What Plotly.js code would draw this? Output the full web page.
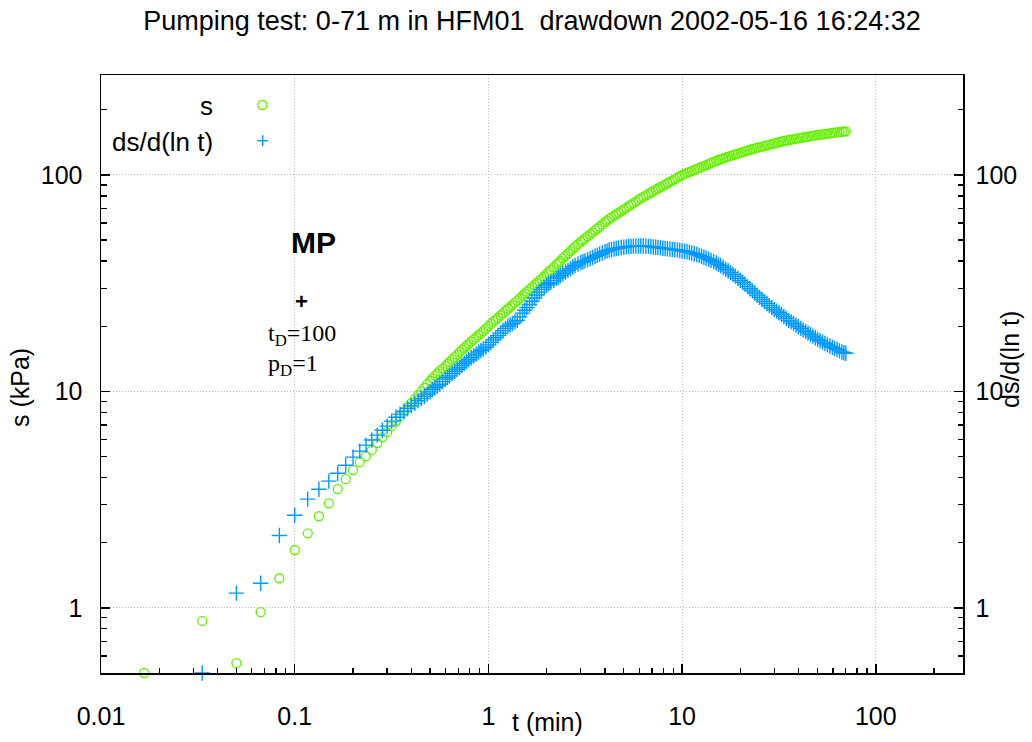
<!DOCTYPE html>
<html>
<head>
<meta charset="utf-8">
<script src="https://cdn.plot.ly/plotly-3.0.1.min.js"></script>
<style>html,body{margin:0;padding:0;background:#fff;}#chart{width:1032px;height:742px;}</style>
</head>
<body>
<div id="chart"></div>
<script>
// ---- data ----
var timeMin = [0.0167,0.0333,0.05,0.0667,0.0833,0.1,0.1167,0.1333,0.15,0.1667,0.1833,0.2,0.2167,0.2333,0.25,0.2667,0.2833,0.3,0.3167,0.3333,0.35,0.3667,0.3833,0.4,0.4167,0.4333,0.45,0.4667,0.4833,
  0.5,0.515,0.53,0.545,0.56,0.58,0.6,0.615,0.63,0.65,
  0.67,0.69,0.71,0.73,0.75,0.77,0.79,0.815,0.84,0.865,
  0.89,0.915,0.94,0.97,1.0,1.03,1.06,1.09,1.12,1.155,
  1.19,1.225,1.26,1.295,1.33,1.37,1.41,1.455,1.5,1.54,
  1.58,1.63,1.68,1.73,1.78,1.83,1.88,1.94,2.0,2.05,
  2.1,2.175,2.25,2.3,2.35,2.42,2.5,2.575,2.65,2.725,
  2.8,2.9,3.0,3.075,3.15,3.25,3.35,3.45,3.55,3.65,
  3.75,3.87,4.0,4.1,4.2,4.32,4.45,4.57,4.7,4.85,
  5.0,5.15,5.3,5.45,5.6,5.77,5.95,6.12,6.3,6.5,
  6.7,6.9,7.1,7.3,7.5,7.72,7.95,8.17,8.4,8.65,
  8.9,9.17,9.45,9.72,10,10.3,10.6,10.9,11.2,11.55,
  11.9,12.25,12.6,12.95,13.3,13.7,14.1,14.55,15.0,15.4,
  15.8,16.3,16.8,17.3,17.8,18.3,18.8,19.4,20,20.55,
  21.1,21.75,22.4,23.05,23.7,24.4,25.1,25.85,26.6,27.4,
  28.2,29.05,29.9,30.75,31.6,32.55,33.5,34.5,35.5,36.55,
  37.6,38.7,39.8,41.0,42.2,43.45,44.7,46.0,47.3,48.7,
  50.1,51.6,53.1,54.6,56.2,57.9,59.6,61.3,63.1,64.9,
  66.8,68.4,70];

var drawdown = [0.50,0.87,0.555,0.955,1.37,1.85,2.21,2.65,3.04,3.54,3.93,4.33,4.71,5.02,5.35,5.77,6.15,6.48,6.91,7.30,7.68,8.06,8.45,8.83,9.22,9.60,10.0,10.4,10.8,
  11.2,11.5,11.8,12.1,12.4,12.75,13.1,13.4,13.7,14.05,
  14.4,14.8,15.2,15.55,15.9,16.25,16.6,17.0,17.4,17.8,
  18.2,18.6,19.0,19.5,20.0,20.5,21.0,21.45,21.9,22.45,
  23.0,23.55,24.1,24.6,25.1,25.7,26.3,27.0,27.7,28.3,
  28.9,29.6,30.3,31.0,31.7,32.45,33.2,34.05,34.9,35.65,
  36.4,37.5,38.6,39.35,40.1,41.2,42.3,43.4,44.5,45.55,
  46.6,47.85,49.1,50.0,50.9,52.05,53.2,54.35,55.5,56.6,
  57.7,59.1,60.5,61.6,62.7,63.75,64.8,65.85,66.9,68.1,
  69.3,70.55,71.8,72.95,74.1,75.4,76.7,78.0,79.3,80.55,
  81.8,83.0,84.2,85.4,86.6,87.85,89.1,90.35,91.6,92.95,
  94.3,95.75,97.2,98.6,100,101.1,102.2,103.25,104.3,105.45,
  106.6,107.75,108.9,110.0,111.1,112.35,113.6,114.9,116.2,117.3,
  118.4,119.5,120.6,121.6,122.6,123.55,124.5,125.6,126.7,127.65,
  128.6,129.7,130.8,131.8,132.8,133.6,134.4,135.3,136.2,137.1,
  138.0,138.95,139.9,140.8,141.7,142.65,143.6,144.35,145.1,145.85,
  146.6,147.2,147.8,148.45,149.1,149.75,150.4,151.05,151.7,152.35,
  153.0,153.55,154.1,154.6,155.1,155.7,156.3,156.85,157.4,157.9,
  158.4,158.8,159.2];

var derivative = [null,0.5,1.17,1.30,2.16,2.68,3.18,3.53,3.85,4.19,4.56,4.97,5.30,5.65,5.96,6.28,6.62,6.91,7.29,7.60,7.85,8.10,8.34,8.58,8.81,9.05,9.28,9.50,9.73,
  9.95,10.2,10.4,10.6,10.8,11.1,11.4,11.6,11.8,12.1,
  12.4,12.65,12.9,13.2,13.5,13.75,14.0,14.3,14.6,14.9,
  15.2,15.45,15.7,16.05,16.4,16.85,17.3,17.7,18.1,18.6,
  19.1,19.55,20.0,20.3,20.6,20.95,21.3,22.1,23.0,23.7,
  24.4,25.2,26.1,27.0,27.9,28.75,29.6,30.3,31.0,31.45,
  31.9,32.6,33.3,33.8,34.3,34.95,35.6,36.25,36.9,37.55,
  38.2,38.8,39.4,39.75,40.1,40.6,41.1,41.6,42.1,42.55,
  43.0,43.6,44.2,44.6,45.0,45.25,45.5,45.75,46.0,46.2,
  46.4,46.55,46.7,46.8,46.9,46.95,47.0,47.0,47.0,46.9,
  46.8,46.65,46.5,46.35,46.2,46.05,45.9,45.75,45.6,45.45,
  45.3,45.15,45.0,44.8,44.6,44.4,44.2,43.9,43.6,43.25,
  42.9,42.5,42.1,41.7,41.3,40.8,40.3,39.75,39.2,38.65,
  38.1,37.4,36.7,36.05,35.4,34.75,34.1,33.35,32.6,31.95,
  31.3,30.55,29.8,29.15,28.5,27.85,27.2,26.6,26.0,25.45,
  24.9,24.4,23.9,23.5,23.1,22.65,22.2,21.75,21.3,20.95,
  20.6,20.25,19.9,19.55,19.2,18.9,18.6,18.3,18.0,17.7,
  17.4,17.15,16.9,16.65,16.4,16.2,16.0,15.8,15.6,15.4,
  15.2,15.1,15.0];

var seriesNames = ['s', 'ds/d(ln t)'];
var chartTitle = 'Pumping test: 0-71 m in HFM01\u00a0 drawdown 2002-05-16 16:24:32';
var xTitle = 't (min)';
var yTitle = 's (kPa)';
var y2Title = 'ds/d(ln t)';
var matchLabel = 'MP';
var matchTD = 't<sub>D</sub>=100';
var matchPD = 'p<sub>D</sub>=1';

// minor tick positions (axis decoration)
var xMinorTicks = [0.02,0.03,0.04,0.05,0.06,0.07,0.08,0.09,0.2,0.3,0.4,0.5,0.6,0.7,0.8,0.9,2,3,4,5,6,7,8,9,20,30,40,50,60,70,80,90,200];
var yMinorTicks = [0.6,0.7,0.8,0.9,2,3,4,5,6,7,8,9,20,30,40,50,60,70,80,90,200];

// ---- styling / layout ----
var GREEN = '#66f000', BLUE = '#0099ff';
var FONT = 'Liberation Sans, Arial, Helvetica, sans-serif';
var L = 101, R = 963, T = 75, B = 673;
function px(x){ return (x - L) / (R - L); }
function py(y){ return (B - y) / (B - T); }

var traces = [
  {x: timeMin, y: drawdown, type:'scatter', mode:'markers', name: seriesNames[0],
   cliponaxis:false,
   marker:{symbol:'circle-open', size:9, color:GREEN, line:{color:GREEN, width:1.3}}},
  {x: timeMin, y: derivative, type:'scatter', mode:'markers', name: seriesNames[1],
   yaxis:'y2', cliponaxis:false,
   marker:{symbol:'cross-thin-open', size:11, color:BLUE, line:{color:BLUE, width:1.4}}}
];

function logAxis(minorVals, extra){
  var a = {type:'log', dtick:1, ticks:'inside', ticklen:9, tickwidth:1.5, tickcolor:'#000',
    showline:true, linecolor:'#000', linewidth:1.5, zeroline:false,
    showgrid:true, gridcolor:'#bdbdbd', griddash:'1px,2px', gridwidth:1,
    tickfont:{family:FONT, size:25, color:'#000'},
    minor:{tickmode:'array', tickvals:minorVals, ticks:'inside', ticklen:5.5, tickwidth:1.3, tickcolor:'#000', showgrid:false}};
  for (var k in extra) a[k] = extra[k];
  return a;
}

var yRange = [Math.log10(0.5), 2.462];

var layout = {
  width:1032, height:742,
  margin:{l:L, r:1032-R, t:T, b:742-B, pad:0},
  paper_bgcolor:'#fff', plot_bgcolor:'#fff',
  font:{family:FONT, size:25, color:'#000'},
  showlegend:false,
  title:{text:chartTitle, x:0.5, xref:'paper', xanchor:'center', y:1-21/742, yref:'container', yanchor:'middle',
         font:{family:FONT, size:27, color:'#000'}},
  xaxis: logAxis(xMinorTicks, {range:[-2, 2.45], mirror:true, ticklabelstandoff:20}),
  yaxis: logAxis(yMinorTicks, {range:yRange, ticklabelstandoff:12}),
  yaxis2: logAxis(yMinorTicks, {range:yRange, overlaying:'y', side:'right', showgrid:false, ticklabelstandoff:6}),
  annotations:[
    {text:xTitle, xref:'paper', yref:'paper', x:px(547), y:py(722), xanchor:'center', yanchor:'middle', showarrow:false, font:{family:FONT, size:25}},
    {text:yTitle, xref:'paper', yref:'paper', x:px(20), y:py(388), textangle:-90, xanchor:'center', yanchor:'middle', showarrow:false, font:{family:FONT, size:25}},
    {text:y2Title, xref:'paper', yref:'paper', x:px(1010), y:py(360), textangle:-90, xanchor:'center', yanchor:'middle', showarrow:false, font:{family:FONT, size:25}},
    {text:seriesNames[0], xref:'paper', yref:'paper', x:px(215), y:py(106), xanchor:'right', yanchor:'middle', showarrow:false, font:{family:FONT, size:26}},
    {text:seriesNames[1], xref:'paper', yref:'paper', x:px(215), y:py(142), xanchor:'right', yanchor:'middle', showarrow:false, font:{family:FONT, size:26}},
    {text:'<b>'+matchLabel+'</b>', xref:'paper', yref:'paper', x:px(313), y:py(242), xanchor:'center', yanchor:'middle', showarrow:false, font:{family:FONT, size:30}},
    {text:'<b>+</b>', xref:'paper', yref:'paper', x:px(301), y:py(301), xanchor:'center', yanchor:'middle', showarrow:false, font:{family:FONT, size:22}},
    {text:matchTD, xref:'paper', yref:'paper', x:px(266), y:py(335), xanchor:'left', yanchor:'middle', showarrow:false, font:{family:'Liberation Serif, Times New Roman, serif', size:24}},
    {text:matchPD, xref:'paper', yref:'paper', x:px(266), y:py(365), xanchor:'left', yanchor:'middle', showarrow:false, font:{family:'Liberation Serif, Times New Roman, serif', size:24}}
  ],
  shapes:[
    {type:'circle', xref:'paper', yref:'paper', x0:px(257.8), x1:px(266.8), y0:py(109.5), y1:py(100.5), line:{color:GREEN, width:1.3}},
    {type:'line', xref:'paper', yref:'paper', x0:px(257.2), x1:px(268.2), y0:py(140.7), y1:py(140.7), line:{color:BLUE, width:1.4}},
    {type:'line', xref:'paper', yref:'paper', x0:px(262.7), x1:px(262.7), y0:py(146.2), y1:py(135.2), line:{color:BLUE, width:1.4}}
  ]
};

Plotly.newPlot('chart', traces, layout, {displayModeBar:false, responsive:false, staticPlot:true});
</script>
</body>
</html>
